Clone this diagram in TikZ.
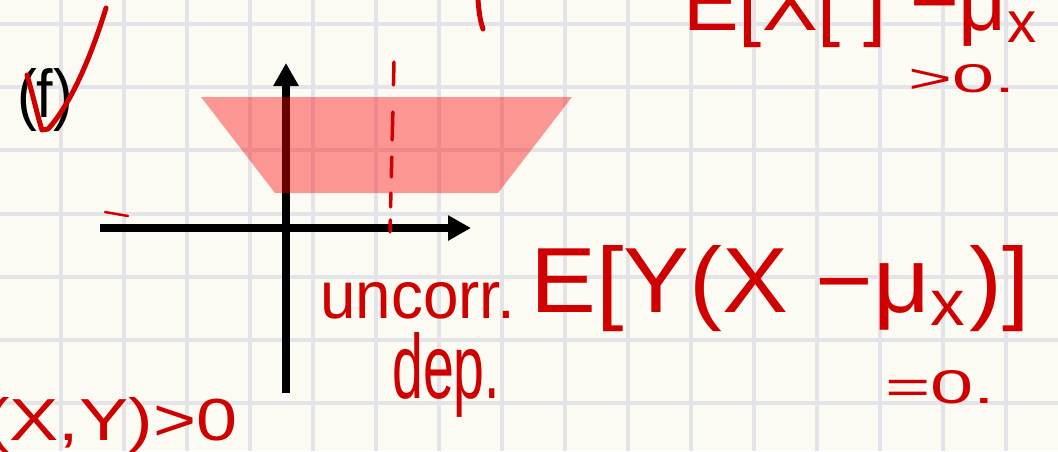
\documentclass[tikz,border=0pt]{standalone}
\usepackage{fontspec}
\setmainfont{Liberation Sans}
\usepackage{graphicx}
\usetikzlibrary{arrows.meta}
\definecolor{paper}{RGB}{251,251,244}
\definecolor{gridline}{RGB}{228,228,232}
\definecolor{ink}{RGB}{208,0,0}
\newcommand{\hand}[3]{\resizebox{#1}{#2}{#3}}

\begin{document}
\begin{tikzpicture}[
		x=1pt, y=-1pt,
		note/.style={inner sep=0pt, anchor=base west, text=ink},
		label/.style={inner sep=0pt, anchor=base west, text=black},
		pen/.style={draw=ink, line width=5pt, line cap=round, line join=round},
		axis/.style={line width=7.5pt, -{Triangle[length=23pt,width=24pt]}}
		]
		
		\useasboundingbox[fill=paper] (0,0) rectangle (1058,451);
		
		% squared paper
		\foreach \gx in {0,...,15}
		\draw[gridline, line width=4pt] (61+63*\gx,0) -- (61+63*\gx,451);
		\foreach \gy in {0,...,6}
		\draw[gridline, line width=4pt] (0,24+63.2*\gy) -- (1058,24+63.2*\gy);
		
		% axes and shaded region
		\coordinate (o) at (286,228);
		\draw[axis] (100,228) -- (471,228);
		\draw[axis] (286,393) -- (286,63);
		\fill[red, opacity=0.4] (201,97) -- (572,97) -- (498,193) -- (275,193) -- cycle;
		
		\node[label] (part) at (17,117) {\hand{56pt}{49pt}{(f)}};
		
		% red handwriting
		\draw[pen] (27,75) .. controls (33,95) and (38,118) .. (42,130)
		-- (48,129) .. controls (70,105) and (90,60) .. (106,8);
		\draw[pen, line width=3.5pt, dash pattern=on 23pt off 27pt on 28pt off 17pt on 20pt off 16pt on 14pt off 13pt on 12pt]
		(394,62) -- (390,232);
		\draw[pen, line width=2.5pt] (105,212) -- (128,216);
		\draw[pen] (478,0) .. controls (479,12) and (480,20) .. (483,29);
		
		\node[note] (ex) at (683,30) {\hand{357pt}{60pt}{E[X[ ] −μ\textsubscript{x}}};
		\node[note] (gt) at (908,92) {\hand{107pt}{28pt}{>0.}};
		\node[note] (unc) at (320,318) {\hand{195pt}{36pt}{uncorr.}};
		\node[note] (ey) at (530,312) {\hand{500pt}{67pt}{E[Y(X −μ\textsubscript{x})]}};
		\node[note] (dep) at (392,398) {\hand{108pt}{66pt}{dep.}};
		\node[note] (eq) at (885,403) {\hand{110pt}{33pt}{=0.}};
		\node[note] (cov) at (-15,440) {\hand{252pt}{43pt}{(X,Y)>0}};
		
	\end{tikzpicture}
\end{document}
